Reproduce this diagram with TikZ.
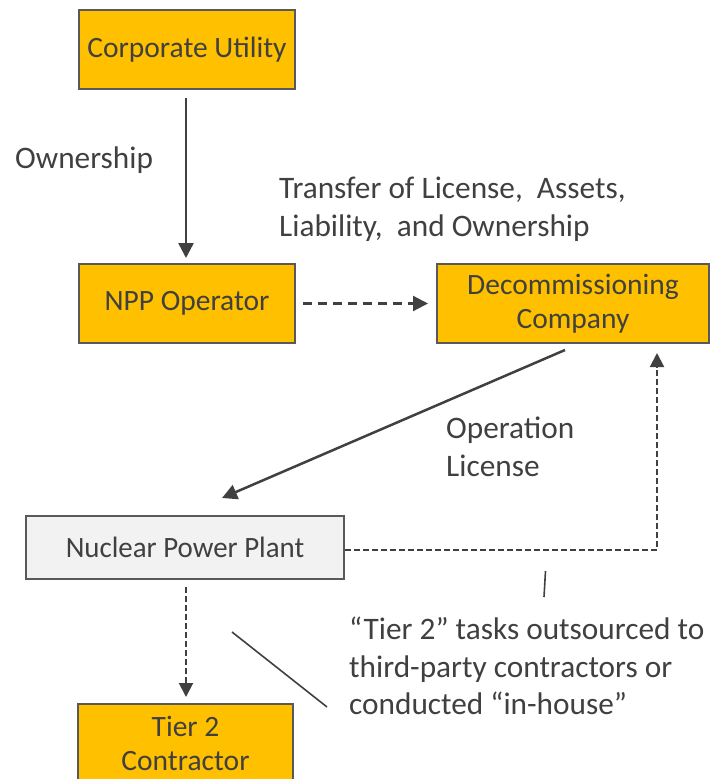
\documentclass[tikz,border=0pt]{standalone}
\usepackage{fontspec}
\setmainfont{Carlito}
\usetikzlibrary{arrows.meta}
\definecolor{ink}{HTML}{404040}
\definecolor{edge}{HTML}{595959}
\definecolor{gold}{HTML}{FFC000}
\definecolor{pale}{HTML}{F2F2F2}
\tikzset{
  box/.style={draw=edge, line width=2pt, fill=gold, text=ink, minimum height=79pt, align=center, inner sep=0pt, font=\fontsize{29.5}{34.5}\selectfont},
  lbl/.style={text=ink, inner sep=0pt, anchor=west, align=left, font=\fontsize{31.3}{37.8}\selectfont},
  arr/.style={draw=ink, line width=2.5pt, -{Triangle[length=15pt,width=15pt]}},
  darr/.style={draw=ink, line width=2.2pt, dash pattern=on 9pt off 6pt, -{Triangle[length=15pt,width=15pt]}},
  farr/.style={draw=ink, line width=2pt, dash pattern=on 6pt off 3pt, -{Triangle[length=14pt,width=14pt]}},
  callout/.style={draw=ink, line width=1.6pt}
}
\begin{document}
\begin{tikzpicture}[x=1pt,y=-1pt]
\useasboundingbox (0,0) rectangle (711,779);
\node[box, minimum width=216pt] (cu) at (187,49.5) {Corporate Utility};
\node[box, minimum width=216pt] (npp) at (187,303.5) {NPP Operator};
\node[box, minimum width=272pt] (dc) at (573,303.5) {Decommissioning\\Company};
\node[box, fill=pale, minimum width=318pt, minimum height=63pt] (plant) at (185,547.5) {\scalebox{0.98}[1]{Nuclear Power Plant}};
\node[box, minimum width=215pt, minimum height=79pt, anchor=north] (t2) at (185.5,703) {Tier 2\\Contractor};

\node[lbl] (own) at (15,160) {Ownership};
\node[lbl] (tr) at (279,209) {Transfer of License, ~Assets,\\Liability, ~and Ownership};
\node[lbl] (ol) at (446,447) {Operation\\License};
\node[lbl] (tier) at (349,666) {“Tier 2” tasks outsourced to\\third-party contractors or\\conducted “in-house”};

\draw[arr, shorten <=8pt, shorten >=5pt] ([xshift=-1pt]cu.south) -- ([xshift=-1pt]npp.north);
\draw[darr, shorten <=7pt, shorten >=8pt] (npp.east) -- (dc.west);
\coordinate (olstart) at ([xshift=-8pt,yshift=-6pt]dc.south);
\coordinate (olend) at ([xshift=37pt,yshift=17pt]plant.north);
\draw[arr] (olstart) -- (olend);
\draw[farr, shorten >=9pt] ([yshift=-2.5pt]plant.east) -| ([xshift=84pt]dc.south);
\draw[farr, shorten <=7pt, shorten >=6pt] ([xshift=1pt]plant.south) -- ([xshift=0.5pt]t2.north);

\coordinate (c1a) at (545.5,571);
\coordinate (c1b) at (544,597);
\draw[callout] (c1a) -- (c1b);
\coordinate (c2a) at (232,632);
\coordinate (c2b) at (327,707);
\draw[callout] (c2a) -- (c2b);
\end{tikzpicture}
\end{document}
